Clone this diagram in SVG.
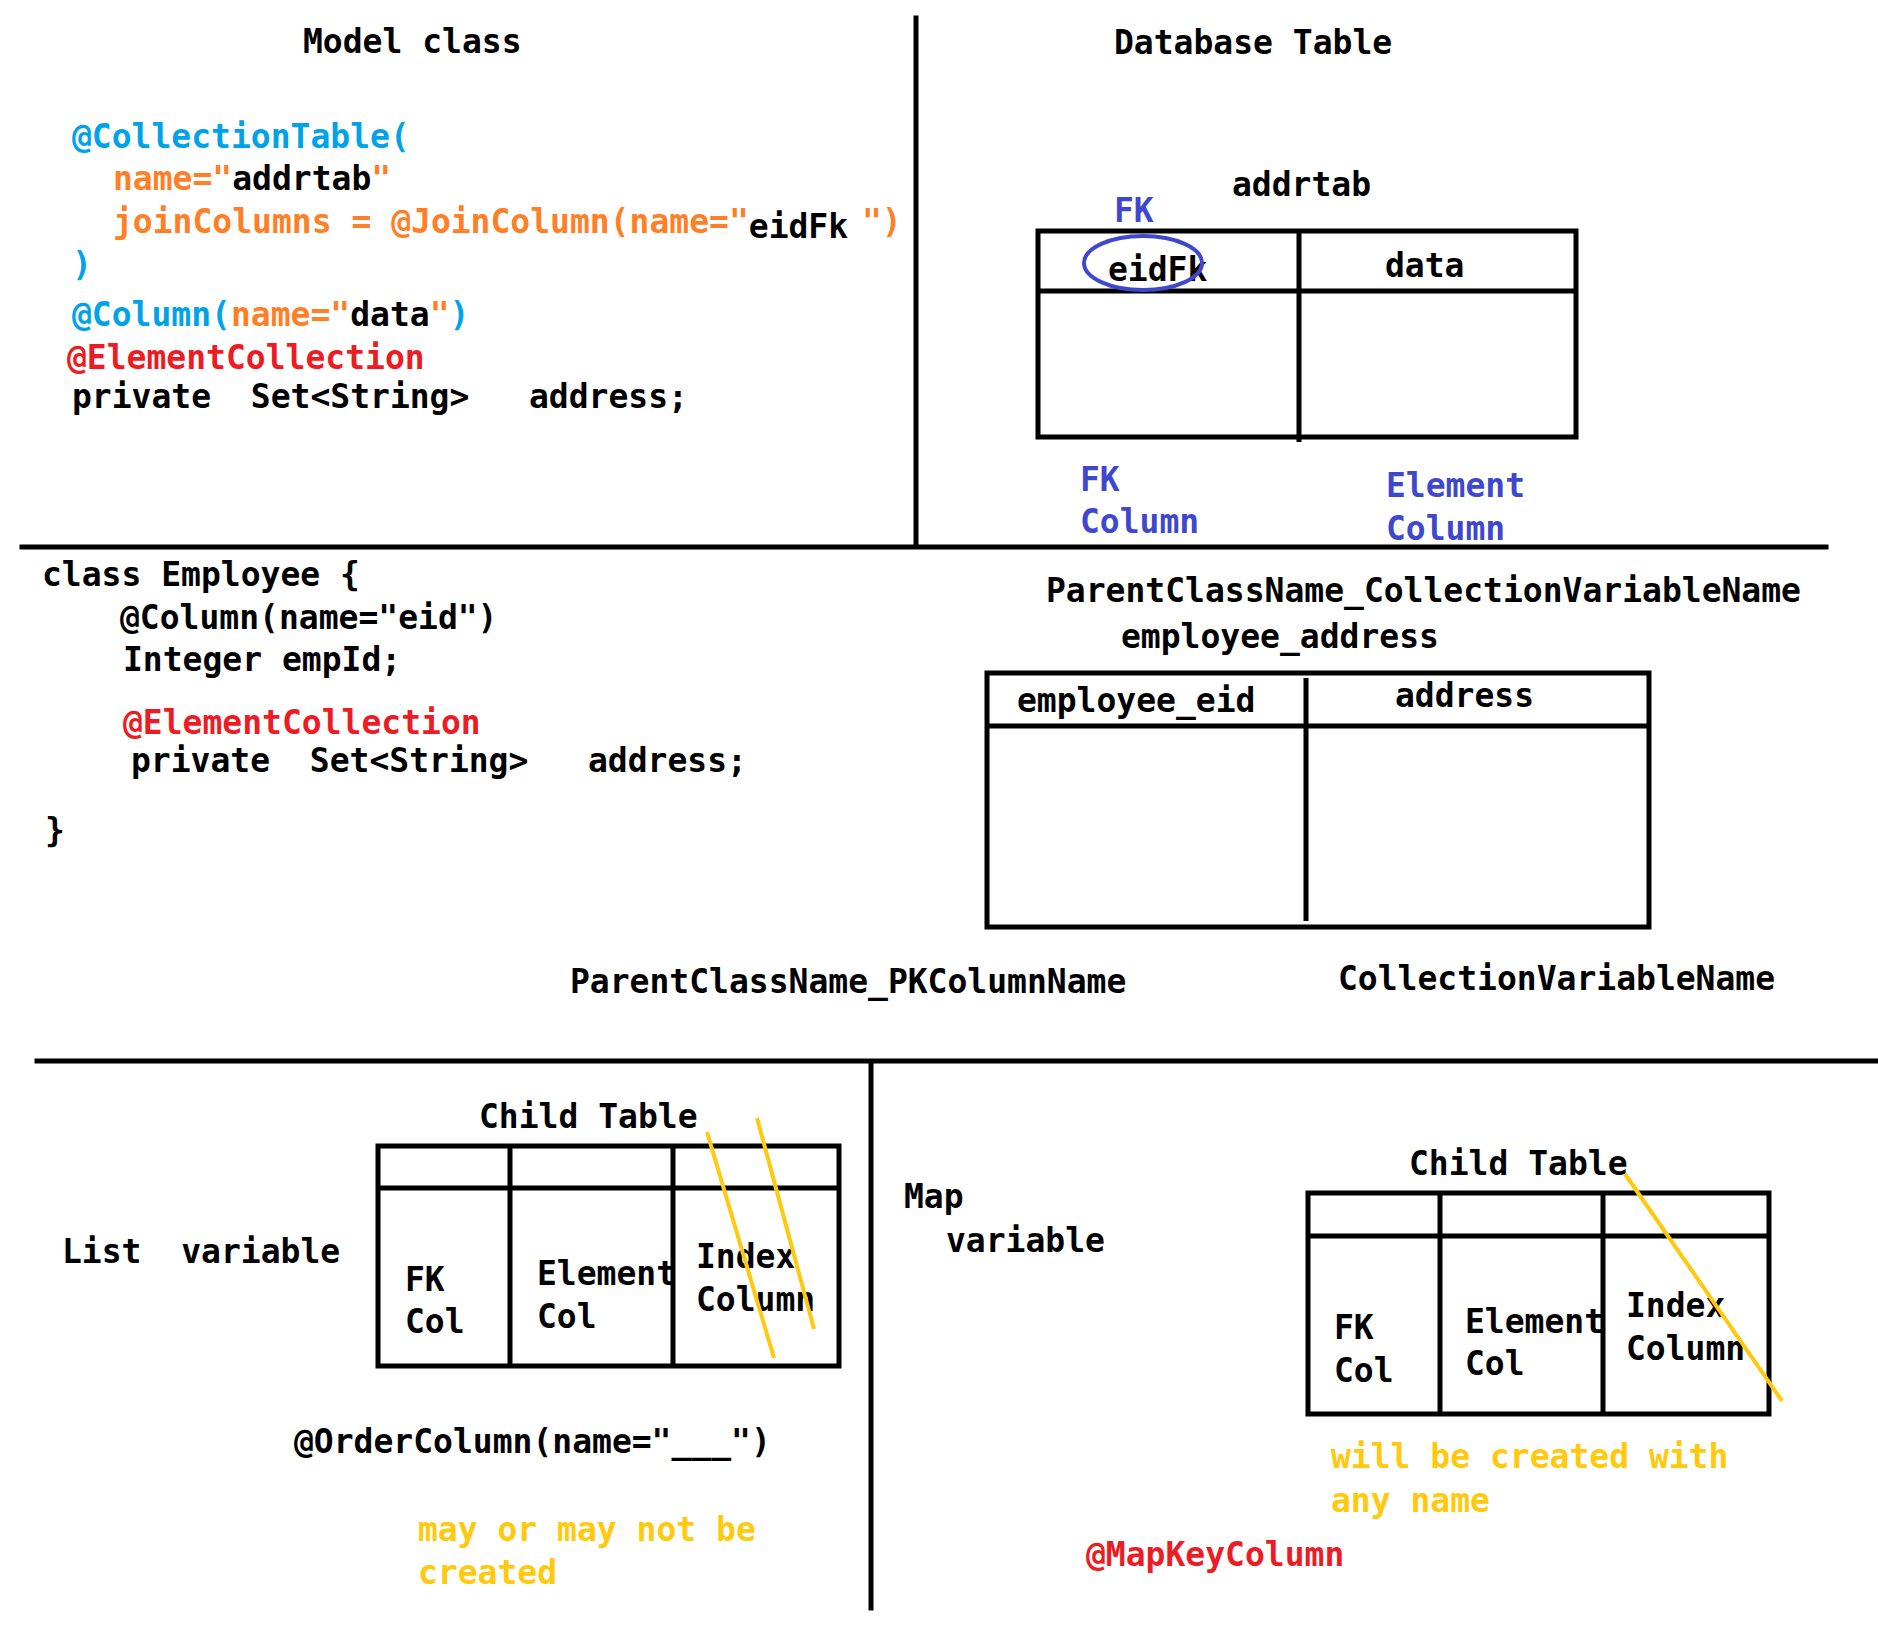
<svg xmlns="http://www.w3.org/2000/svg" width="1878" height="1628" viewBox="0 0 1878 1628">
<style>
text{font-family:"DejaVu Sans Mono","Liberation Mono",monospace;font-weight:bold;font-size:33px;fill:#000;white-space:pre}
.lb{fill:#00A2E8}.or{fill:#FF7F27}.rd{fill:#ED1C24}.ind{fill:#3F48CC}.gd{fill:#FFC90E}.bk{fill:#000}
.ln{stroke:#000;stroke-width:5;fill:none;stroke-linecap:square}
.tb{stroke:#000;stroke-width:5;fill:none}
.yl{stroke:#FFC90E;stroke-width:4;fill:none}
</style>
<g id="dividers">
<line class="ln" x1="916" y1="18" x2="916" y2="545"/>
<line class="ln" x1="22" y1="547" x2="1826" y2="547"/>
<line class="ln" x1="37" y1="1061" x2="1878" y2="1061"/>
<line class="ln" x1="871" y1="1064" x2="871" y2="1608"/>
</g>
<g id="model-class">
<text x="303" y="53">Model class</text>
<text x="72" y="148" class="lb">@CollectionTable(</text>
<text x="113" y="190"><tspan class="or">name="</tspan><tspan class="bk">addrtab</tspan><tspan class="or">"</tspan></text>
<text x="113" y="233"><tspan class="or">joinColumns = @JoinColumn(name="</tspan><tspan class="bk" dy="5">eidFk</tspan><tspan class="or" dy="-5" dx="-6"> ")</tspan></text>
<text x="72" y="276" class="lb">)</text>
<text x="72" y="326"><tspan class="lb">@Column(</tspan><tspan class="or">name="</tspan><tspan class="bk">data</tspan><tspan class="or">"</tspan><tspan class="lb">)</tspan></text>
<text x="67" y="369" class="rd">@ElementCollection</text>
<text x="72" y="408">private  Set&lt;String&gt;   address;</text>
</g>
<g id="database-table">
<text x="1114" y="54">Database Table</text>
<text x="1232" y="196">addrtab</text>
<text x="1114" y="222" class="ind">FK</text>
<rect class="tb" x="1038" y="231" width="538" height="206"/>
<line class="tb" x1="1038" y1="291" x2="1576" y2="291"/>
<line class="tb" x1="1299" y1="231" x2="1299" y2="442"/>
<text x="1108" y="281">eidFk</text>
<ellipse cx="1143" cy="263" rx="59" ry="27" fill="none" stroke="#3F48CC" stroke-width="4"/>
<text x="1385" y="277">data</text>
<text x="1080" y="491" class="ind">FK</text>
<text x="1080" y="533" class="ind">Column</text>
<text x="1386" y="497" class="ind">Element</text>
<text x="1386" y="540" class="ind">Column</text>
</g>
<g id="employee-class">
<text x="42" y="586">class Employee {</text>
<text x="120" y="629">@Column(name="eid")</text>
<text x="123" y="671">Integer empId;</text>
<text x="123" y="734" class="rd">@ElementCollection</text>
<text x="131" y="772">private  Set&lt;String&gt;   address;</text>
<text x="45" y="842">}</text>
</g>
<g id="employee-address-table">
<text x="1046" y="602">ParentClassName_CollectionVariableName</text>
<text x="1121" y="648">employee_address</text>
<rect class="tb" x="987" y="673" width="662" height="254"/>
<line class="tb" x1="987" y1="726" x2="1649" y2="726"/>
<line class="tb" x1="1306" y1="678" x2="1306" y2="921"/>
<text x="1017" y="712">employee_eid</text>
<text x="1395" y="707">address</text>
<text x="570" y="993">ParentClassName_PKColumnName</text>
<text x="1338" y="990">CollectionVariableName</text>
</g>
<g id="list-child-table">
<text x="62" y="1263">List  variable</text>
<text x="479" y="1128">Child Table</text>
<rect class="tb" x="378" y="1146" width="461" height="220"/>
<line class="tb" x1="378" y1="1188" x2="839" y2="1188"/>
<line class="tb" x1="510" y1="1146" x2="510" y2="1366"/>
<line class="tb" x1="673" y1="1146" x2="673" y2="1366"/>
<text x="405" y="1291">FK</text>
<text x="405" y="1333">Col</text>
<text x="537" y="1285">Element</text>
<text x="537" y="1328">Col</text>
<text x="696" y="1268">Index</text>
<text x="696" y="1311">Column</text>
<line class="yl" x1="707" y1="1132" x2="774" y2="1358"/>
<line class="yl" x1="757" y1="1118" x2="814" y2="1329"/>
<text x="294" y="1453">@OrderColumn(name="___")</text>
<text x="418" y="1541" class="gd">may or may not be</text>
<text x="418" y="1584" class="gd">created</text>
</g>
<g id="map-child-table">
<text x="904" y="1208">Map</text>
<text x="946" y="1252">variable</text>
<text x="1409" y="1175">Child Table</text>
<rect class="tb" x="1308" y="1193" width="461" height="221"/>
<line class="tb" x1="1308" y1="1236" x2="1769" y2="1236"/>
<line class="tb" x1="1440" y1="1193" x2="1440" y2="1414"/>
<line class="tb" x1="1603" y1="1193" x2="1603" y2="1414"/>
<text x="1334" y="1339">FK</text>
<text x="1334" y="1382">Col</text>
<text x="1465" y="1333">Element</text>
<text x="1465" y="1375">Col</text>
<text x="1626" y="1317">Index</text>
<text x="1626" y="1360">Column</text>
<line class="yl" x1="1625" y1="1174" x2="1782" y2="1401"/>
<text x="1331" y="1468" class="gd">will be created with</text>
<text x="1331" y="1512" class="gd">any name</text>
<text x="1086" y="1566" class="rd">@MapKeyColumn</text>
</g>
</svg>
